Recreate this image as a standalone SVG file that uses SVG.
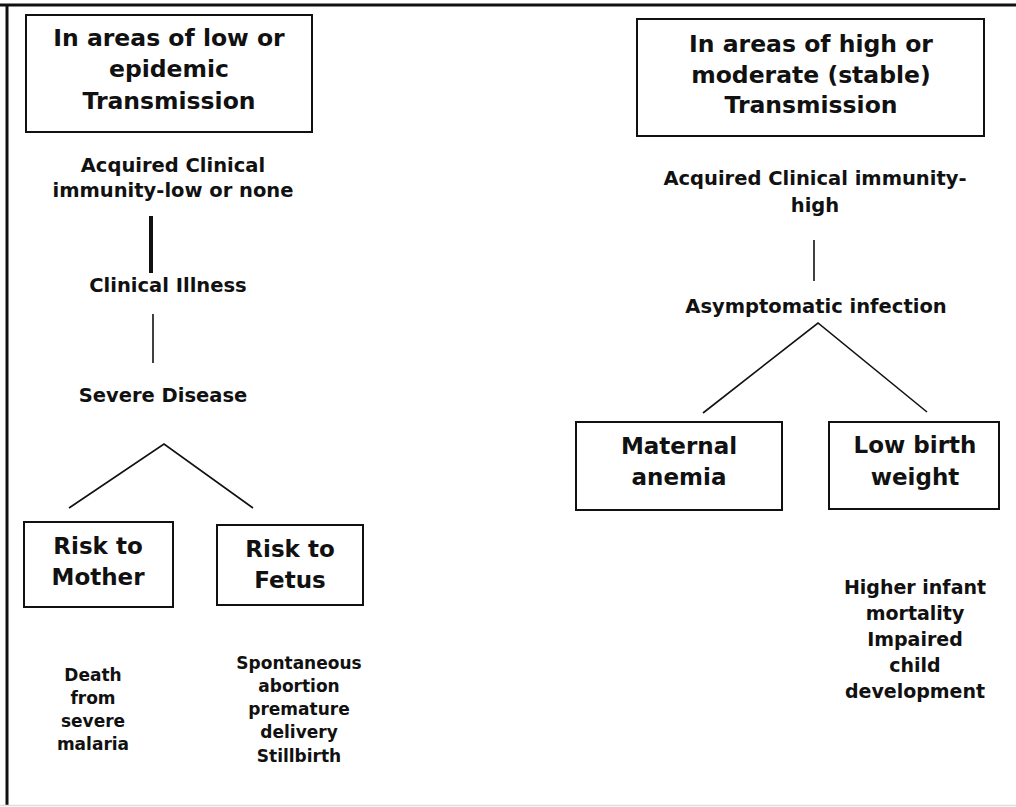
<svg xmlns="http://www.w3.org/2000/svg" width="1016" height="807" viewBox="0 0 1016 807">
<style>
text{font-family:"DejaVu Sans","Verdana","Liberation Sans",sans-serif;font-weight:bold;fill:#111;text-anchor:middle}
.h{font-size:23.5px}
.b{font-size:23px}
.m{font-size:19.5px}
.s{font-size:17px}
.r{font-size:19px}
.box{fill:#fff;stroke:#111;stroke-width:2}
.ln{stroke:#111;stroke-width:1.6;fill:none}
</style>
<rect x="0" y="0" width="1016" height="807" fill="#fff"/>
<g id="frame">
<line x1="0" y1="5" x2="1016" y2="5" stroke="#111" stroke-width="3"/>
<line x1="7" y1="4" x2="7" y2="806" stroke="#111" stroke-width="3"/>
<line x1="0" y1="805.5" x2="1016" y2="805.5" stroke="#ddd" stroke-width="1.5"/>
</g>
<g id="connectors">
<line x1="151" y1="216" x2="151" y2="273" stroke="#111" stroke-width="4"/>
<line class="ln" x1="153" y1="314" x2="153" y2="363" stroke-width="2"/>
<polyline class="ln" points="69,508 164,444 253,508"/>
<line class="ln" x1="814" y1="240" x2="814" y2="281" stroke-width="2"/>
<polyline class="ln" points="703,413 818,323 927,412"/>
</g>
<g id="low-header">
<rect class="box" x="26" y="15" width="286" height="117"/>
<text class="h" x="169" y="46">In areas of low or</text>
<text class="h" x="169" y="77">epidemic</text>
<text class="h" x="169" y="109">Transmission</text>
</g>
<g id="low-immunity">
<text class="m" x="173" y="172">Acquired Clinical</text>
<text class="m" x="173" y="197">immunity-low or none</text>
</g>
<g id="clinical-illness"><text class="m" x="168" y="292">Clinical Illness</text></g>
<g id="severe-disease"><text class="m" x="163" y="402">Severe Disease</text></g>
<g id="risk-mother">
<rect class="box" x="24" y="522" width="149" height="85"/>
<text class="b" x="98" y="554">Risk to</text>
<text class="b" x="98" y="585">Mother</text>
</g>
<g id="risk-fetus">
<rect class="box" x="217" y="525" width="146" height="80"/>
<text class="b" x="290" y="557">Risk to</text>
<text class="b" x="290" y="588">Fetus</text>
</g>
<g id="death">
<text class="s" x="93" y="681">Death</text>
<text class="s" x="93" y="704">from</text>
<text class="s" x="93" y="727">severe</text>
<text class="s" x="93" y="750">malaria</text>
</g>
<g id="fetus-outcomes">
<text class="s" x="299" y="669">Spontaneous</text>
<text class="s" x="299" y="692">abortion</text>
<text class="s" x="299" y="715">premature</text>
<text class="s" x="299" y="738">delivery</text>
<text class="s" x="299" y="762">Stillbirth</text>
</g>
<g id="high-header">
<rect class="box" x="637" y="19" width="347" height="117"/>
<text class="h" x="811" y="52">In areas of high or</text>
<text class="h" x="811" y="83">moderate (stable)</text>
<text class="h" x="811" y="113">Transmission</text>
</g>
<g id="high-immunity">
<text class="m" x="815" y="185">Acquired Clinical immunity-</text>
<text class="m" x="815" y="212">high</text>
</g>
<g id="asymptomatic"><text class="m" x="816" y="313">Asymptomatic infection</text></g>
<g id="maternal-anemia">
<rect class="box" x="576" y="422" width="206" height="88"/>
<text class="b" x="679" y="454">Maternal</text>
<text class="b" x="679" y="485">anemia</text>
</g>
<g id="low-birth-weight">
<rect class="box" x="829" y="422" width="170" height="87"/>
<text class="b" x="915" y="453">Low birth</text>
<text class="b" x="915" y="485">weight</text>
</g>
<g id="infant-outcomes">
<text class="r" x="915" y="594">Higher infant</text>
<text class="r" x="915" y="620">mortality</text>
<text class="r" x="915" y="646">Impaired</text>
<text class="r" x="915" y="672">child</text>
<text class="r" x="915" y="698">development</text>
</g>
</svg>
